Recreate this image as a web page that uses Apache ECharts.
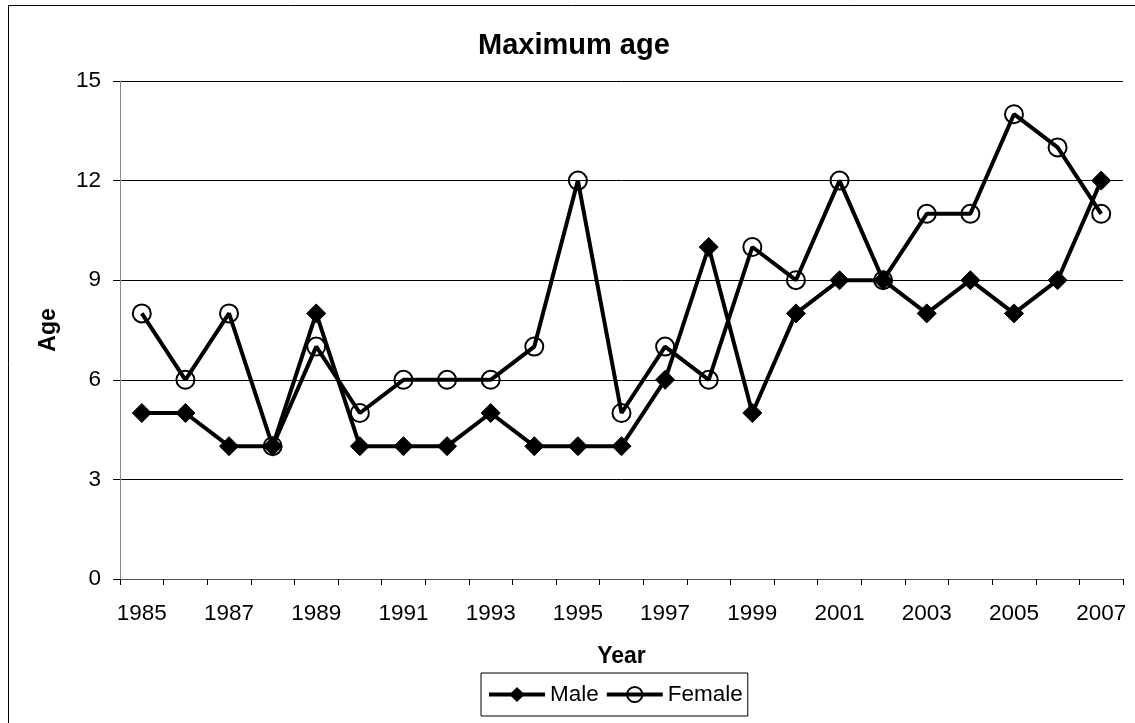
<!DOCTYPE html>
<html><head><meta charset="utf-8">
<script src="https://cdn.jsdelivr.net/npm/echarts@6/dist/echarts.min.js"></script>
<style>html,body{margin:0;padding:0;background:#fff}#c{width:1135px;height:723px}</style>
</head><body><div id="c"></div>
<script>
const years = ['1985','1986','1987','1988','1989','1990','1991','1992','1993','1994','1995','1996','1997','1998','1999','2000','2001','2002','2003','2004','2005','2006','2007'];
const male   = [5,5,4,4,8,4,4,4,5,4,4,4,6,10,5,8,9,9,8,9,8,9,12];
const female = [8,6,8,4,7,5,6,6,6,7,12,5,7,6,10,9,12,9,11,11,14,13,11];
const yMin = 0, yMax = 15, yStep = 3;

const chart = echarts.init(document.getElementById('c'), null, {renderer:'canvas'});
const font = 'Liberation Sans, Arial, sans-serif';
chart.setOption({
  animation:false,
  backgroundColor:'#fff',
  graphic:[{type:'rect', shape:{x:8.5,y:5.5,width:1200,height:800}, style:{fill:'none', stroke:'#000', lineWidth:1}, silent:true}],
  title:{text:'Maximum age', left:478, top:31, padding:0,
    textStyle:{fontFamily:font, fontSize:29, fontWeight:'bold', color:'#000'}},
  legend:{left:481, top:673, padding:[10,5,10,6], itemGap:6, itemWidth:56, itemHeight:19,
    borderColor:'#000', borderWidth:1,
    lineStyle:{width:4},
    textStyle:{fontFamily:font, fontSize:22.5, color:'#000'},
    data:['Male','Female']},
  grid:{left:120, right:12, top:81, bottom:144, containLabel:false},
  xAxis:{type:'category', data:years, boundaryGap:true,
    name:'Year', nameLocation:'middle', nameGap:66,
    nameTextStyle:{fontFamily:font, fontSize:23, fontWeight:'bold', color:'#000'},
    axisLine:{lineStyle:{color:'#555', width:1}},
    axisTick:{show:true, interval:0, length:6, lineStyle:{color:'#000'}},
    axisLabel:{interval:1, fontFamily:font, fontSize:22.5, color:'#000', margin:23},
    splitLine:{show:false}},
  yAxis:{type:'value', min:yMin, max:yMax, interval:yStep,
    name:'Age', nameLocation:'middle', nameGap:60, nameRotate:90,
    nameTextStyle:{fontFamily:font, fontSize:23, fontWeight:'bold', color:'#000'},
    axisLine:{show:true, lineStyle:{color:'#888', width:1}},
    axisTick:{show:true, length:7, lineStyle:{color:'#000'}},
    axisLabel:{fontFamily:font, fontSize:22.5, color:'#000', margin:19},
    splitLine:{show:true, lineStyle:{color:'#000', width:1}}},
  series:[
    {name:'Male', type:'line', data:male, symbol:'diamond', symbolSize:19,
     lineStyle:{color:'#000', width:4}, itemStyle:{color:'#000', borderColor:'#000'}, z:2},
    {name:'Female', type:'line', data:female, symbol:'circle', symbolSize:18,
     lineStyle:{color:'#000', width:4}, itemStyle:{color:'rgba(255,255,255,0)', borderColor:'#000', borderWidth:2}, z:3}
  ]
});
</script></body></html>
